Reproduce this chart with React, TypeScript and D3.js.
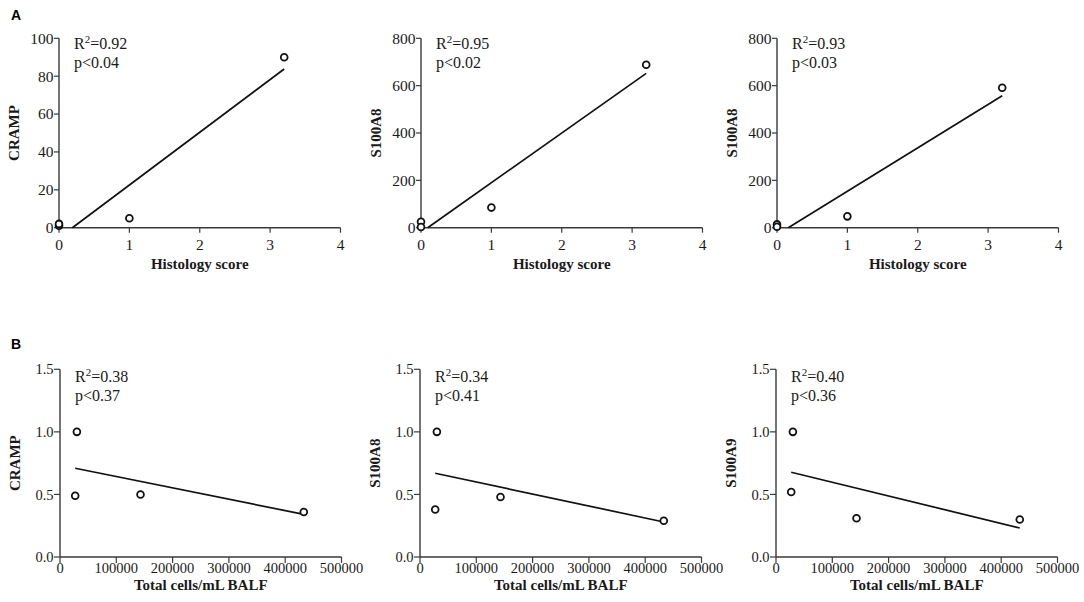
import * as d3 from "d3";

// Panel A: histology score vs protein level
const HIST_SCORE = [0, 0, 1, 3.2];
const A_CRAMP = [1, 2, 5, 90];
const A_S100A8 = [25, 3, 85, 688];
const A_S100A8_2 = [14, 4, 48, 591];

// Panel B: total BALF cells vs protein level
const BALF_CELLS = [27000, 30000, 143000, 433000];
const B_CRAMP = [0.49, 1.0, 0.5, 0.36];
const B_S100A8 = [0.38, 1.0, 0.48, 0.29];
const B_S100A9 = [0.52, 1.0, 0.31, 0.3];

// regression lines (start x/y, end x/y)
const A_FIT_X0 = [0.19, 0.095, 0.16];
const A_FIT_X1 = [3.2, 3.2, 3.2];
const A_FIT_Y1 = [83.8, 652, 557];
const B_FIT_X = [27000, 433000];
const B_FIT_Y0 = [0.709, 0.669, 0.677];
const B_FIT_Y1 = [0.341, 0.28, 0.232];

const A_R2 = ["0.92", "0.95", "0.93"];
const A_P = ["0.04", "0.02", "0.03"];
const B_R2 = ["0.38", "0.34", "0.40"];
const B_P = ["0.37", "0.41", "0.36"];

const A_YLABELS = ["CRAMP", "S100A8", "S100A8"];
const B_YLABELS = ["CRAMP", "S100A8", "S100A9"];

const A_YTICKS = [[0, 20, 40, 60, 80, 100], [0, 200, 400, 600, 800], [0, 200, 400, 600, 800]];
const A_XTICKS = [0, 1, 2, 3, 4];
const B_YTICKS = [0, 0.5, 1.0, 1.5];
const B_XTICKS = [0, 100000, 200000, 300000, 400000, 500000];

const AXIS_COLOR = "#3a3a3a";
const TEXT_COLOR = "#1a1a1a";
const SERIF = "'Liberation Serif', 'Times New Roman', serif";
const SANS = "'Liberation Sans', Arial, sans-serif";

type PanelProps = {
  left: number;
  top: number;
  bottom: number;
  width: number;
  xDomain: [number, number];
  yDomain: [number, number];
  xTicks: number[];
  yTicks: number[];
  yFormat: (v: number) => string;
  xs: number[];
  ys: number[];
  fit: [number, number][];
  r2: string;
  p: string;
  yLabel: string;
  xLabel: string;
  tickSize: number;
  tickFont: number;
  tickGap: number;
  titleGap: number;
  statGap: number;
};

const Panel = (props: PanelProps) => {
  const { left, top, bottom, width, tickSize, tickFont } = props;
  const xScale = d3.scaleLinear().domain(props.xDomain).range([left, left + width]);
  const yScale = d3.scaleLinear().domain(props.yDomain).range([bottom, top]);
  const line = d3
    .line<[number, number]>()
    .x((d) => xScale(d[0]))
    .y((d) => yScale(d[1]));

  return (
    <g>
      {/* axes */}
      <line x1={left} x2={left} y1={top} y2={bottom} stroke={AXIS_COLOR} strokeWidth={1.4} />
      <line x1={left} x2={left + width} y1={bottom} y2={bottom} stroke={AXIS_COLOR} strokeWidth={1.4} />
      {props.yTicks.map((t) => (
        <g key={"y" + t}>
          <line x1={left - tickSize} x2={left} y1={yScale(t)} y2={yScale(t)} stroke={AXIS_COLOR} strokeWidth={1.2} />
          <text
            x={left - tickSize - 0.5}
            y={yScale(t)}
            dy="0.35em"
            textAnchor="end"
            fontFamily={SERIF}
            fontSize={tickFont}
            fill={TEXT_COLOR}
          >
            {props.yFormat(t)}
          </text>
        </g>
      ))}
      {props.xTicks.map((t) => (
        <g key={"x" + t}>
          <line x1={xScale(t)} x2={xScale(t)} y1={bottom} y2={bottom + tickSize} stroke={AXIS_COLOR} strokeWidth={1.2} />
          <text
            x={xScale(t)}
            y={bottom + props.tickGap}
            textAnchor="middle"
            fontFamily={SERIF}
            fontSize={tickFont}
            fill={TEXT_COLOR}
          >
            {t}
          </text>
        </g>
      ))}
      <text
        x={left + width / 2}
        y={bottom + props.titleGap}
        textAnchor="middle"
        fontFamily={SERIF}
        fontWeight="bold"
        fontSize={15}
        fill={TEXT_COLOR}
      >
        {props.xLabel}
      </text>
      <text
        transform={`translate(${left - 45},${(top + bottom) / 2}) rotate(-90)`}
        dy="0.35em"
        textAnchor="middle"
        fontFamily={SERIF}
        fontWeight="bold"
        fontSize={15}
        fill={TEXT_COLOR}
      >
        {props.yLabel}
      </text>

      {/* stats */}
      <text x={left + 15} y={top + props.statGap} fontFamily={SERIF} fontSize={16} fill={TEXT_COLOR}>
        R<tspan dy={-6} fontSize={11}>2</tspan>
        <tspan dy={6}>={props.r2}</tspan>
      </text>
      <text x={left + 15} y={top + props.statGap + 19} fontFamily={SERIF} fontSize={16} fill={TEXT_COLOR}>
        p&lt;{props.p}
      </text>

      {/* fit line */}
      <path d={line(props.fit) ?? ""} fill="none" stroke="#111" strokeWidth={1.7} />

      {/* points */}
      {props.xs.map((x, i) => (
        <circle
          key={i}
          cx={xScale(x)}
          cy={yScale(props.ys[i])}
          r={3.4}
          fill="white"
          stroke="#111"
          strokeWidth={1.8}
        />
      ))}
    </g>
  );
};

const A_LEFTS = [59, 421, 777];
const B_LEFTS = [60, 420, 776];
const PANEL_W = 281.5;

export default function App() {
  const aData = [A_CRAMP, A_S100A8, A_S100A8_2];
  const bData = [B_CRAMP, B_S100A8, B_S100A9];
  const aYMax = [100, 800, 800];

  return (
    <svg
      width={1084}
      height={602}
      style={{ position: "absolute", left: 0, top: 0, background: "white" }}
    >
      <text x={11} y={19.5} fontFamily={SANS} fontWeight="bold" fontSize={14}>A</text>
      <text x={11} y={348.5} fontFamily={SANS} fontWeight="bold" fontSize={14}>B</text>
      {A_LEFTS.map((left, i) => (
        <Panel
          key={"a" + i}
          left={left}
          top={38.3}
          bottom={227.7}
          width={PANEL_W}
          xDomain={[0, 4]}
          yDomain={[0, aYMax[i]]}
          xTicks={A_XTICKS}
          yTicks={A_YTICKS[i]}
          yFormat={(v) => String(v)}
          xs={HIST_SCORE}
          ys={aData[i]}
          fit={[
            [A_FIT_X0[i], 0],
            [A_FIT_X1[i], A_FIT_Y1[i]],
          ]}
          r2={A_R2[i]}
          p={A_P[i]}
          yLabel={A_YLABELS[i]}
          xLabel="Histology score"
          tickSize={5}
          tickFont={15.5}
          tickGap={22}
          titleGap={41}
          statGap={11}
        />
      ))}
      {B_LEFTS.map((left, i) => (
        <Panel
          key={"b" + i}
          left={left}
          top={369.3}
          bottom={557}
          width={PANEL_W}
          xDomain={[0, 500000]}
          yDomain={[0, 1.5]}
          xTicks={B_XTICKS}
          yTicks={B_YTICKS}
          yFormat={d3.format(".1f")}
          xs={BALF_CELLS}
          ys={bData[i]}
          fit={[
            [B_FIT_X[0], B_FIT_Y0[i]],
            [B_FIT_X[1], B_FIT_Y1[i]],
          ]}
          r2={B_R2[i]}
          p={B_P[i]}
          yLabel={B_YLABELS[i]}
          xLabel="Total cells/mL BALF"
          tickSize={6}
          tickFont={14.5}
          tickGap={16}
          titleGap={33}
          statGap={13}
        />
      ))}
    </svg>
  );
}
